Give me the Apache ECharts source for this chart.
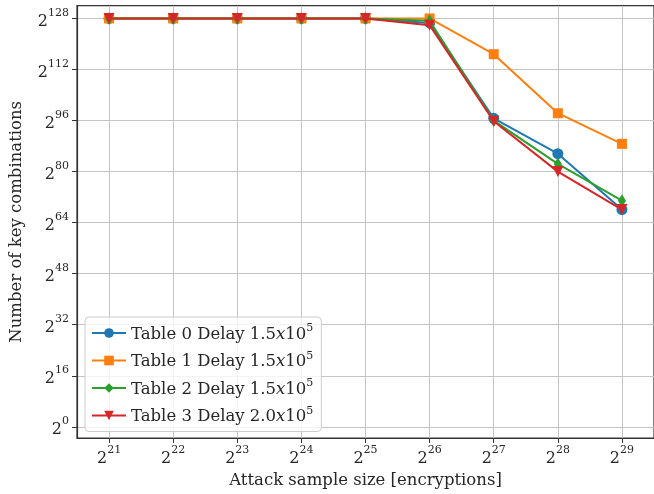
<!DOCTYPE html>
<html>
<head>
<meta charset="utf-8">
<script src="https://cdn.jsdelivr.net/npm/echarts@6/dist/echarts.min.js"></script>
<style>html,body{margin:0;padding:0;background:#fff;}#c{width:654px;height:494px;}</style>
</head>
<body>
<div id="c"></div>
<script>
// x categories: exponents of 2 (attack sample size)
var xExponents = [21, 22, 23, 24, 25, 26, 27, 28, 29];
// y tick exponents
var yTicks = [0, 16, 32, 48, 64, 80, 96, 112, 128];
// series values (log2 of number of key combinations)
var table0 = [128, 128, 128, 128, 128, 126.6, 96.7, 85.6, 68.1];
var table1 = [128, 128, 128, 128, 128, 128, 116.8, 98.3, 88.7];
var table2 = [128, 128, 128, 128, 128, 127.3, 96.0, 82.4, 70.9];
var table3 = [128, 128, 128, 128, 128, 125.9, 95.8, 80.0, 68.1];
var seriesNames = ['Table 0 Delay 1.5x10^5', 'Table 1 Delay 1.5x10^5', 'Table 2 Delay 1.5x10^5', 'Table 3 Delay 2.0x10^5'];
var legendLabels = [
  '{t|Table 0 Delay 1.5}{i|x}{t|10}{sup|5}',
  '{t|Table 1 Delay 1.5}{i|x}{t|10}{sup|5}',
  '{t|Table 2 Delay 1.5}{i|x}{t|10}{sup|5}',
  '{t|Table 3 Delay 2.0}{i|x}{t|10}{sup|5}'
];

var FONT = '"DejaVu Serif", serif';
var TXT = '#262626';
function pts(arr){ return arr.map(function(v,i){ return [i, v]; }); }
var xIdx = xExponents.map(function(e,i){ return i; });

var supRich = {
  b: {fontFamily: FONT, fontSize: 16, color: TXT, lineHeight: 22, verticalAlign: 'bottom'},
  sup: {fontFamily: FONT, fontSize: 11, color: TXT, lineHeight: 11, verticalAlign: 'top'}
};

var colors = ['#1f77b4', '#ff7f0e', '#2ca02c', '#d62728'];
var symbols = ['circle', 'rect', 'diamond', 'triangle'];
var sizes = [11, 10, [8, 13], 11];
var rot = [0, 0, 0, 180];
var datas = [table0, table1, table2, table3];

var series = datas.map(function(d, k){
  return {
    name: seriesNames[k],
    type: 'line',
    data: pts(d),
    color: colors[k],
    symbol: symbols[k],
    symbolSize: sizes[k],
    symbolRotate: rot[k],
    showAllSymbol: true,
    lineStyle: {width: 2, color: colors[k]},
    itemStyle: {color: colors[k]},
    z: 10 + k,
    animation: false
  };
});

var chart = echarts.init(document.getElementById('c'), null, {renderer: 'canvas'});
chart.setOption({
  animation: false,
  backgroundColor: '#fff',
  grid: {left: 77, top: 5.7, width: 581.4, height: 433.3, show: true, borderColor: '#333', borderWidth: 1.2, backgroundColor: 'transparent', containLabel: false},
  xAxis: {
    type: 'value', min: -0.5, max: 8.5,
    axisLine: {show: true, onZero: false, lineStyle: {color: '#333', width: 1.2}},
    axisTick: {show: true, customValues: xIdx, length: 5, inside: false, lineStyle: {color: '#333', width: 1}},
    axisLabel: {customValues: xIdx, margin: 7, formatter: function(v){ return '{b|2}{sup|' + xExponents[Math.round(v)] + '}'; }, rich: supRich},
    splitLine: {show: true, lineStyle: {color: '#c4c4c4', width: 1}},
    name: 'Attack sample size [encryptions]', nameLocation: 'middle', nameGap: 34,
    nameTextStyle: {fontFamily: FONT, fontSize: 16.5, color: TXT}
  },
  yAxis: {
    type: 'value', min: -3.5, max: 132,
    axisLine: {show: true, onZero: false, lineStyle: {color: '#333', width: 1.2}},
    axisTick: {show: true, customValues: yTicks, length: 5, inside: false, lineStyle: {color: '#333', width: 1}},
    axisLabel: {customValues: yTicks, margin: 8, formatter: function(v){ return '{b|2}{sup|' + v + '}'; }, rich: supRich},
    splitLine: {show: true, lineStyle: {color: '#c4c4c4', width: 1}},
    name: 'Number of key combinations', nameLocation: 'middle', nameGap: 52, nameRotate: 90,
    nameTextStyle: {fontFamily: FONT, fontSize: 16.5, color: TXT}
  },
  legend: {
    orient: 'vertical', left: 85, top: 317,
    itemWidth: 34, itemHeight: 12, itemGap: 7.5,
    padding: [6, 8, 6, 6],
    backgroundColor: 'rgba(255,255,255,0.8)',
    borderColor: '#cccccc', borderWidth: 1, borderRadius: 4,
    data: seriesNames,
    formatter: function(name){ return legendLabels[seriesNames.indexOf(name)]; },
    textStyle: {fontFamily: FONT, fontSize: 16.5, color: TXT, rich: {
      t: {fontFamily: FONT, fontSize: 16.5, color: TXT, lineHeight: 20, verticalAlign: 'bottom'},
      i: {fontFamily: FONT, fontStyle: 'italic', fontSize: 16.5, color: TXT, lineHeight: 20, verticalAlign: 'bottom'},
      sup: {fontFamily: FONT, fontSize: 11, color: TXT, verticalAlign: 'top', lineHeight: 11}
    }}
  },
  series: series
});
</script>
</body>
</html>
